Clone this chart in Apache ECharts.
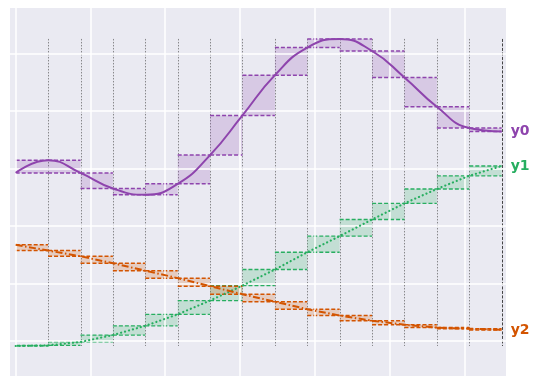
<!DOCTYPE html>
<html><head><meta charset="utf-8">
<script src="https://cdn.jsdelivr.net/npm/echarts@6/dist/echarts.min.js"></script>
<style>html,body{margin:0;padding:0;background:#fff}#c{width:536px;height:384px}</style>
</head><body><div id="c"></div>
<script>
// ---- data ----
const xValues = [0, 0.433, 0.867, 1.3, 1.733, 2.167, 2.6, 3.033, 3.467, 3.9, 4.333, 4.767, 5.2, 5.633, 6.067, 6.5];
const y0 = [2.92, 3.14, 2.92, 2.65, 2.54, 2.73, 3.23, 3.92, 4.62, 5.10, 5.25, 5.04, 4.58, 4.07, 3.70, 3.64];
const y1 = [-0.09, -0.08, -0.02, 0.10, 0.26, 0.46, 0.70, 0.96, 1.24, 1.54, 1.82, 2.11, 2.39, 2.64, 2.87, 3.04];
const y2 = [1.67, 1.57, 1.47, 1.35, 1.22, 1.09, 0.95, 0.81, 0.68, 0.55, 0.44, 0.35, 0.28, 0.23, 0.21, 0.19];
const seriesNames = ['y0', 'y1', 'y2'];
const xGridTicks = [0, 1, 2, 3, 4, 5, 6];
const yGridTicks = [0, 1, 2, 3, 4, 5];

// ---- styling ----
const colors = ['#8e44ad', '#27ae60', '#d35400'];
const allY = [y0, y1, y2];

function rgba(hex, a) {
  const n = parseInt(hex.slice(1), 16);
  return 'rgba(' + ((n >> 16) & 255) + ',' + ((n >> 8) & 255) + ',' + (n & 255) + ',' + a + ')';
}
const pairs = arr => xValues.map((x, i) => [x, arr[i]]);

function bandSeries(arr, color, z, lw) {
  const segs = [];
  for (let i = 0; i < arr.length - 1; i++) segs.push([xValues[i], xValues[i + 1], arr[i], arr[i + 1]]);
  return {
    type: 'custom', z: z, silent: true, animation: false,
    data: segs,
    encode: { x: [0, 1], y: [2, 3] },
    renderItem: function (params, api) {
      const xa = api.value(0), xb = api.value(1), a = api.value(2), b = api.value(3);
      const lo = Math.min(a, b), hi = Math.max(a, b);
      const p0 = api.coord([xa, hi]);
      const p1 = api.coord([xb, lo]);
      return {
        type: 'group', children: [
          { type: 'rect', shape: { x: p0[0], y: p0[1], width: p1[0] - p0[0], height: p1[1] - p0[1] }, style: { fill: rgba(color, 0.2) } },
          { type: 'line', shape: { x1: p0[0], y1: p0[1], x2: p1[0], y2: p0[1] }, style: { stroke: color, lineWidth: lw, lineDash: [4, 2] } },
          { type: 'line', shape: { x1: p0[0], y1: p1[1], x2: p1[0], y2: p1[1] }, style: { stroke: color, lineWidth: lw, lineDash: [4, 2] } }
        ]
      };
    }
  };
}

const yMinAll = Math.min.apply(null, allY.flat());
const yMaxAll = Math.max.apply(null, allY.flat());
const vlineData = xValues.slice(1).map((x, i) => [x, yMinAll, yMaxAll, i === xValues.length - 2 ? 1 : 0]);

const vlineSeries = {
  type: 'custom', z: 3, silent: true, animation: false,
  data: vlineData,
  encode: { x: 0, y: [1, 2] },
  renderItem: function (params, api) {
    const p0 = api.coord([api.value(0), api.value(2)]);
    const p1 = api.coord([api.value(0), api.value(1)]);
    const last = api.value(3) === 1;
    return {
      type: 'line',
      shape: { x1: Math.round(p0[0]) + 0.5, y1: p0[1], x2: Math.round(p0[0]) + 0.5, y2: p1[1] },
      style: { stroke: last ? 'rgba(40,40,40,0.85)' : 'rgba(70,70,70,0.6)', lineWidth: 1, lineDash: last ? [3, 1.5] : [1.5, 1.5] }
    };
  }
};

const lineStyles = [
  { width: 2, type: 'solid' },
  { width: 2.2, type: [0.1, 4], cap: 'round' },
  { width: 2, type: [7, 2.5, 1.5, 2.5] }
];

const lineSeries = allY.map((arr, i) => ({
  type: 'line', name: seriesNames[i], data: pairs(arr),
  smooth: i === 0, showSymbol: false, silent: true, animation: false, z: 6,
  lineStyle: Object.assign({ color: colors[i] }, lineStyles[i]),
  endLabel: {
    show: true, formatter: '{a}', color: colors[i], fontWeight: 'bold',
    fontSize: 14, fontFamily: 'DejaVu Sans', distance: 9
  }
}));

const gridLineSeries = {
  type: 'line', data: [[0, 0]], showSymbol: false, silent: true, animation: false, z: 1,
  lineStyle: { opacity: 0 },
  markLine: {
    silent: true, symbol: ['none', 'none'], animation: false,
    label: { show: false },
    lineStyle: { color: '#ffffff', width: 1.5, type: 'solid' },
    data: xGridTicks.map(v => ({ xAxis: v })).concat(yGridTicks.map(v => ({ yAxis: v })))
  }
};

const hiddenAxis = {
  axisLine: { show: false }, axisTick: { show: false }, axisLabel: { show: false }, splitLine: { show: false }
};

const chart = echarts.init(document.getElementById('c'), null, { renderer: 'canvas' });
chart.setOption({
  animation: false,
  grid: { left: 10, top: 8, width: 496, height: 368, show: true, backgroundColor: '#eaeaf2', borderWidth: 0 },
  xAxis: Object.assign({ type: 'value', min: -0.076, max: 6.558 }, hiddenAxis),
  yAxis: Object.assign({ type: 'value', min: -0.612, max: 5.788 }, hiddenAxis),
  series: [gridLineSeries, vlineSeries,
    bandSeries(y0, colors[0], 4, 1.5), bandSeries(y1, colors[1], 4, 1.3), bandSeries(y2, colors[2], 4, 1.5)
  ].concat(lineSeries)
});
</script>
</body></html>
